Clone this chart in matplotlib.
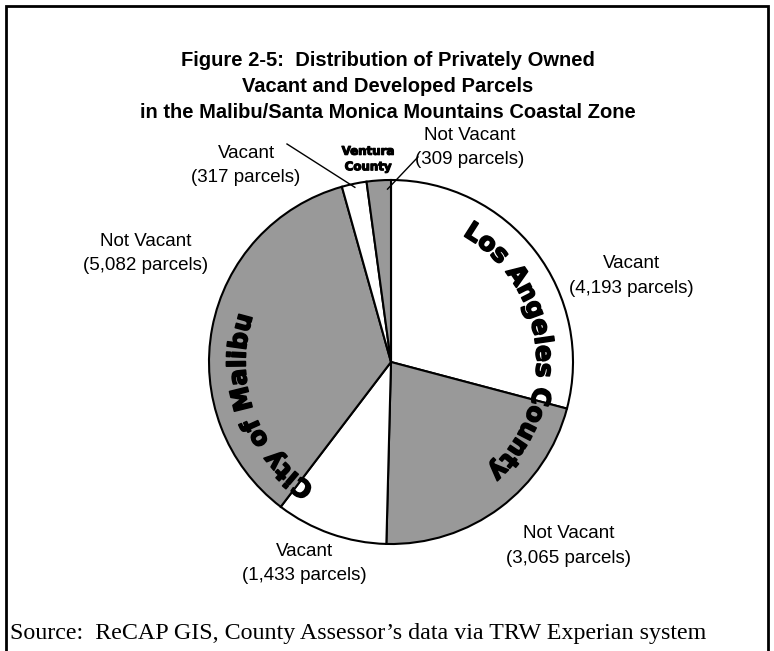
import numpy as np
import matplotlib.pyplot as plt
import matplotlib.patheffects as pe
from matplotlib.font_manager import FontProperties
from matplotlib.patches import Rectangle

# data
statuses = ['Vacant', 'Not Vacant', 'Vacant', 'Not Vacant', 'Vacant', 'Not Vacant']
counts = [4193, 3065, 1433, 5082, 317, 309]
slice_colors = ['white', '#999999', 'white', '#999999', 'white', '#999999']
areas = ['Los Angeles County', 'City of Malibu', 'Ventura\nCounty']
title_lines = ['Figure 2-5:  Distribution of Privately Owned',
               'Vacant and Developed Parcels',
               'in the Malibu/Santa Monica Mountains Coastal Zone']
source = 'Source:  ReCAP GIS, County Assessor\u2019s data via TRW Experian system'

W, H = 774, 651
fig = plt.figure(figsize=(W / 100, H / 100), dpi=100)

cx, cy, rx, ry = 391, H - 362, 182, 182
pad = 1.05
pax = fig.add_axes([(cx - rx * pad) / W, (cy - ry * pad) / H,
                    2 * rx * pad / W, 2 * ry * pad / H])
pax.pie(counts, startangle=90, counterclock=False, colors=slice_colors,
        radius=1, wedgeprops=dict(edgecolor='black', linewidth=1.5))
pax.set_xlim(-pad, pad)
pax.set_ylim(-pad, pad)
pax.set_aspect('auto')
pax.axis('off')

ax = fig.add_axes([0, 0, 1, 1])
ax.set_xlim(0, W)
ax.set_ylim(0, H)
ax.axis('off')

renderer = fig.canvas.get_renderer()
thick = [pe.withStroke(linewidth=1.2, foreground='black')]


def text_w(s, prop):
    return renderer.get_text_width_height_descent(s, prop, ismath=False)[0]


def on_pie(deg, k):
    th = np.radians(deg)
    return cx + k * rx * np.sin(th), cy + k * ry * np.cos(th)


def curved(s, center_deg, k, prop):
    # letters along the rim, clockwise, tops pointing outward
    ref = text_w('ll', prop)
    ws = [text_w('l' + ch + 'l', prop) - ref for ch in s]
    grid = np.linspace(center_deg - 120, center_deg + 120, 4001)
    t = np.radians(grid)
    speed = k * np.sqrt((rx * np.cos(t)) ** 2 + (ry * np.sin(t)) ** 2)
    arc = np.concatenate([[0], np.cumsum(0.5 * (speed[1:] + speed[:-1]) * np.diff(t))])
    arc -= np.interp(center_deg, grid, arc)
    pos = -sum(ws) / 2
    for ch, w in zip(s, ws):
        deg = np.interp(pos + w / 2, arc, grid)
        th = np.radians(deg)
        x, y = on_pie(deg, k)
        rot = np.degrees(np.arctan2(-ry * np.sin(th), rx * np.cos(th)))
        ax.text(x, y, ch, fontproperties=prop, rotation=rot, path_effects=thick,
                rotation_mode='anchor', ha='center', va='baseline')
        pos += w


heavy = FontProperties(family='DejaVu Sans', weight='bold', size=18)
curved(areas[0], 84, 0.80, heavy)
curved(areas[1], 250, 0.80, heavy)
ax.text(368, H - 159, areas[2], family='DejaVu Sans', fontweight='bold',
        fontsize=8.5, ha='center', va='center', linespacing=1.25,
        path_effects=[pe.withStroke(linewidth=0.8, foreground='black')])

# slice labels (x, y of the first line)
lab_pos = [(631, 264), (569, 534), (304, 551), (146, 241), (246, 153), (470, 135)]
for st, c, (x, y) in zip(statuses, counts, lab_pos):
    for j, line in enumerate([st, f'({c:,} parcels)']):
        ax.text(x, H - y - 24.5 * j, line, family='Liberation Sans',
                fontsize=13.5, ha='center', va='center')

# leader lines for the two small Ventura slices
edges = np.concatenate([[0], np.cumsum(counts)]) / sum(counts) * 360
for i, frac, k, start in [(4, 0.5, 0.98, (287, H - 144)), (5, 0.85, 0.95, (418, H - 157))]:
    ex, ey = on_pie(edges[i] + frac * (edges[i + 1] - edges[i]), k)
    ax.plot([start[0], ex], [start[1], ey], color='black', lw=1)

for j, line in enumerate(title_lines):
    ax.text(388, H - 61 - 25.5 * j, line, family='Liberation Sans',
            fontweight='bold', fontsize=14.5, ha='center', va='center')

src_prop = FontProperties(family='Liberation Serif', size=16)
src_prop.set_size(16 * 696 / text_w(source, src_prop))
ax.text(10, H - 633, source, fontproperties=src_prop, ha='left', va='center')

ax.add_patch(Rectangle((6, -10), 762, H - 6 + 10, fill=False,
                       edgecolor='black', lw=2, clip_on=False))

fig.savefig('out.png', dpi=100)
